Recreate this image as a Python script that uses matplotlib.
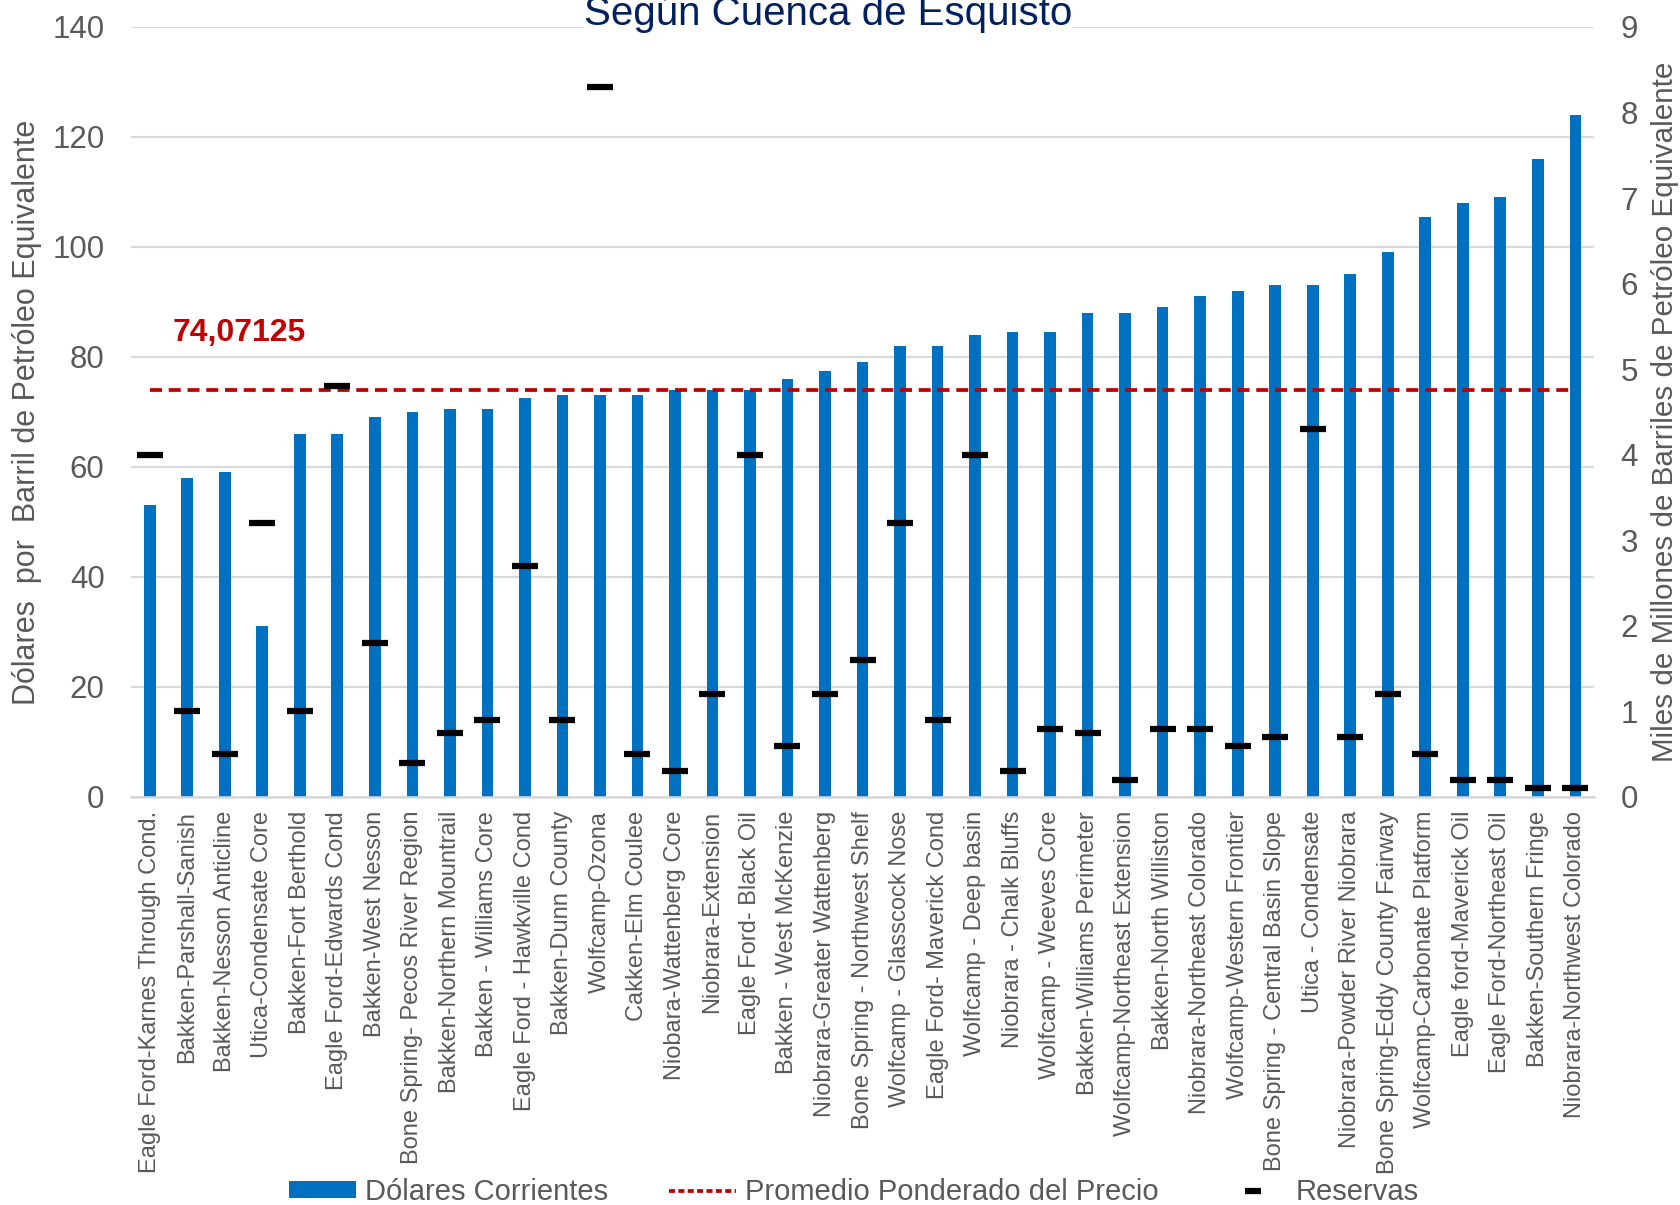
import matplotlib
matplotlib.use('Agg')
import matplotlib.pyplot as plt
import numpy as np
from matplotlib.lines import Line2D
from matplotlib.patches import Patch

plt.rcParams['font.family'] = ['Liberation Sans', 'DejaVu Sans']

cuencas = ['Eagle Ford-Karnes Through Cond.', 'Bakken-Parshall-Sanish', 'Bakken-Nesson Anticline',
           'Utica-Condensate Core', 'Bakken-Fort Berthold', 'Eagle Ford-Edwards Cond',
           'Bakken-West Nesson', 'Bone Spring- Pecos River Region', 'Bakken-Northern Mountrail',
           'Bakken - Williams Core', 'Eagle Ford - Hawkville Cond', 'Bakken-Dunn County',
           'Wolfcamp-Ozona', 'Cakken-Elm Coulee', 'Niobara-Wattenberg Core', 'Niobrara-Extension',
           'Eagle Ford- Black Oil', 'Bakken - West McKenzie', 'Niobrara-Greater Wattenberg',
           'Bone Spring - Northwest Shelf', 'Wolfcamp - Glasscock Nose', 'Eagle Ford- Maverick Cond',
           'Wolfcamp - Deep basin', 'Niobrara - Chalk Bluffs', 'Wolfcamp - Weeves Core',
           'Bakken-Williams Perimeter', 'Wolfcamp-Northeast Extension', 'Bakken-North Williston',
           'Niobrara-Northeast Colorado', 'Wolfcamp-Western Frontier', 'Bone Spring - Central Basin Slope',
           'Utica - Condensate', 'Niobrara-Powder River Niobrara', 'Bone Spring-Eddy County Fairway',
           'Wolfcamp-Carbonate Platform', 'Eagle ford-Maverick Oil', 'Eagle Ford-Northeast Oil',
           'Bakken-Southern Fringe', 'Niobrara-Northwest Colorado']

# dolares por barril (eje izq.)
dolares = [53, 58, 59, 31, 66, 66, 69, 70, 70.5, 70.5, 72.5, 73, 73, 73, 74, 74, 74, 76, 77.5,
           79, 82, 82, 84, 84.5, 84.5, 88, 88, 89, 91, 92, 93, 93, 95, 99, 105.5, 108, 109, 116, 124]

# reservas, miles de millones de barriles (eje der.)
reservas = [4.0, 1.0, 0.5, 3.2, 1.0, 4.8, 1.8, 0.4, 0.75, 0.9, 2.7, 0.9, 8.3, 0.5, 0.3, 1.2,
            4.0, 0.6, 1.2, 1.6, 3.2, 0.9, 4.0, 0.3, 0.8, 0.75, 0.2, 0.8, 0.8, 0.6, 0.7, 4.3,
            0.7, 1.2, 0.5, 0.2, 0.2, 0.1, 0.1]

promedio = 74.07125

gris = '#595959'
azul = '#0070C0'
rojo = '#C00000'

fig = plt.figure(figsize=(16.81, 12.05), dpi=100)
ax = fig.add_axes([0.0779, 0.3386, 0.8704, 0.639])
x = np.arange(len(cuencas))

ax.bar(x, dolares, width=0.31, color=azul, zorder=2)
ax.plot(x, [promedio] * len(x), color=rojo, lw=2.7, dashes=(3.2, 1.8), zorder=3)
ax.text(0.62, 84.4, '74,07125', color=rojo, fontsize=23, fontweight='bold', va='center', ha='left')

ax.set_xlim(-0.5, len(x) - 0.5)
ax.set_ylim(0, 140)
ax.set_yticks(range(0, 141, 20))
ax.set_xticks(x)
ax.set_xticklabels(cuencas, rotation=90, fontsize=17, color=gris)
ax.tick_params(axis='x', length=0, pad=10)
ax.tick_params(axis='y', length=0, pad=19, labelsize=22.5, labelcolor=gris)
ax.grid(axis='y', color='#d9d9d9', lw=1.5, zorder=0)
ax.set_axisbelow(True)
for s in ['top', 'right', 'left']:
    ax.spines[s].set_visible(False)
ax.spines['bottom'].set_color('#d9d9d9')
ax.spines['bottom'].set_linewidth(1.8)

ax2 = ax.twinx()
ax2.plot(x, reservas, ls='none', marker='_', ms=19, mew=4.5, color='black', zorder=4)
ax2.set_ylim(0, 9)
ax2.set_yticks(range(0, 10))
ax2.tick_params(axis='y', length=0, pad=19, labelsize=22.5, labelcolor=gris)
for s in ['top', 'right', 'left', 'bottom']:
    ax2.spines[s].set_visible(False)

fig.text(0.016, 0.658, 'Dólares  por  Barril de Petróleo Equivalente', rotation=90,
         ha='center', va='center', fontsize=22, color=gris)
fig.text(0.9905, 0.658, 'Miles de Millones de Barriles de Petróleo Equivalente', rotation=90,
         ha='center', va='center', fontsize=21.3, color=gris)

fig.text(0.4926, 0.9793, 'Según Cuenca de Esquisto', ha='center', va='baseline', fontsize=29,
         color='#002060', bbox=dict(facecolor='white', edgecolor='none', pad=1))

handles = [Patch(facecolor=azul, edgecolor='none'),
           Line2D([], [], color=rojo, lw=2.7, dashes=(1.6, 0.9)),
           Line2D([], [], ls='none', marker='_', ms=12, mew=4.5, color='black')]
labels = ['Dólares Corrientes', 'Promedio Ponderado del Precio', 'Reservas']
fig.legend(handles, labels, loc='center', bbox_to_anchor=(0.508, 0.0108), ncol=3, frameon=False,
           fontsize=21, labelcolor=gris, handlelength=2.3, handleheight=0.52,
           handletextpad=0.3, columnspacing=2.1, borderpad=0)

fig.savefig('out.png', dpi=100)
